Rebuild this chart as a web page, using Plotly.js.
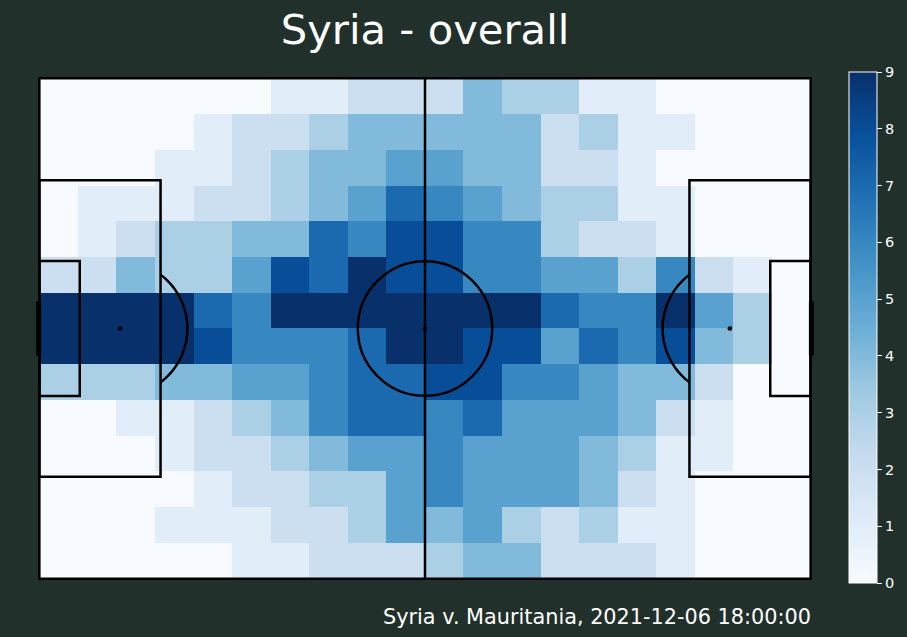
<!DOCTYPE html>
<html>
<head>
<meta charset="utf-8">
<script src="https://cdn.plot.ly/plotly-3.0.1.min.js"></script>
<style>html,body{margin:0;padding:0;background:#22302b;}#chart{width:907px;height:637px;}</style>
</head>
<body>
<div id="chart"></div>
<script>
// Heatmap counts, rows from top touchline to bottom touchline, 20 columns left to right
const row0  = [0,0,0,0,0,0,1,1,2,2, 2,4,3,3,1,1,0,0,0,0];
const row1  = [0,0,0,0,1,2,2,3,4,4, 4,4,4,2,3,1,1,0,0,0];
const row2  = [0,0,0,1,1,2,3,4,4,5, 5,4,4,2,2,1,0,0,0,0];
const row3  = [0,1,1,1,2,2,3,4,5,7, 6,5,4,3,3,1,1,0,0,0];
const row4  = [0,1,2,3,3,4,4,7,6,8, 8,6,6,3,2,2,1,0,0,0];
const row5  = [2,2,4,3,3,5,8,7,9,8, 8,6,6,5,5,3,6,2,1,0];
const row6  = [9,9,9,9,7,6,9,9,9,9, 9,9,9,7,6,6,9,5,3,0];
const row7  = [9,9,9,9,8,6,6,6,7,9, 9,8,8,5,7,6,8,4,3,0];
const row8  = [3,3,3,4,4,5,5,6,7,7, 8,8,6,6,5,4,4,2,0,0];
const row9  = [0,0,1,1,2,3,4,6,7,7, 6,7,5,5,5,4,2,1,0,0];
const row10 = [0,0,0,1,2,2,3,4,5,5, 6,5,5,5,4,3,1,1,0,0];
const row11 = [0,0,0,0,1,2,2,3,3,5, 6,5,5,5,4,2,1,0,0,0];
const row12 = [0,0,0,1,1,1,2,2,3,5, 4,5,3,2,3,1,1,0,0,0];
const row13 = [0,0,0,0,0,1,1,2,2,2, 3,4,4,2,2,2,1,0,0,0];
const colorbarTicks = [0,1,2,3,4,5,6,7,8,9];
const titleText = "Syria - overall";
const subtitleText = "Syria v. Mauritania, 2021-12-06 18:00:00";

const z = [row0,row1,row2,row3,row4,row5,row6,row7,row8,row9,row10,row11,row12,row13];
const L = 105, W = 68, NX = 20, NY = 14;
const xc = [], yc = [];
for (let i = 0; i < NX; i++) xc.push(L / NX * (i + 0.5));
for (let j = 0; j < NY; j++) yc.push(W / NY * (j + 0.5));

const blues = [
  [0.0, '#f7fbff'], [0.125, '#deebf7'], [0.25, '#c6dbef'], [0.375, '#9ecae1'],
  [0.5, '#6baed6'], [0.625, '#4292c6'], [0.75, '#2171b5'], [0.875, '#08519c'], [1.0, '#08306b']
];

const line = {color: '#000000', width: 2.5};
const shapes = [];
function rect(x0, y0, x1, y1) {
  shapes.push({type: 'rect', xref: 'x', yref: 'y', x0, y0, x1, y1, line, layer: 'above'});
}
function seg(x0, y0, x1, y1, w) {
  shapes.push({type: 'line', xref: 'x', yref: 'y', x0, y0, x1, y1, line: {color: '#000', width: w || 2.5}, layer: 'above'});
}
function dot(cx, cy, r) {
  shapes.push({type: 'circle', xref: 'x', yref: 'y', x0: cx - r, x1: cx + r, y0: cy - r, y1: cy + r,
    fillcolor: '#000', line: {color: '#000', width: 0}, layer: 'above'});
}
function arc(cx, cy, r, a0, a1) {
  let p = '';
  const n = 40;
  for (let k = 0; k <= n; k++) {
    const a = (a0 + (a1 - a0) * k / n) * Math.PI / 180;
    p += (k ? ' L ' : 'M ') + (cx + r * Math.cos(a)).toFixed(3) + ',' + (cy + r * Math.sin(a)).toFixed(3);
  }
  shapes.push({type: 'path', xref: 'x', yref: 'y', path: p, line, layer: 'above'});
}
// pitch
rect(0, 0, L, W);
seg(L / 2, 0, L / 2, W);
rect(0, (W - 40.32) / 2, 16.5, (W + 40.32) / 2);
rect(L - 16.5, (W - 40.32) / 2, L, (W + 40.32) / 2);
rect(0, (W - 18.32) / 2, 5.5, (W + 18.32) / 2);
rect(L - 5.5, (W - 18.32) / 2, L, (W + 18.32) / 2);
shapes.push({type: 'circle', xref: 'x', yref: 'y', x0: L / 2 - 9.15, x1: L / 2 + 9.15, y0: W / 2 - 9.15, y1: W / 2 + 9.15, line, layer: 'above'});
const ang = Math.acos(5.5 / 9.15) * 180 / Math.PI;
arc(11, W / 2, 9.15, -ang, ang);
arc(L - 11, W / 2, 9.15, 180 - ang, 180 + ang);
dot(11, W / 2, 0.32);
dot(L - 11, W / 2, 0.32);
dot(L / 2, W / 2, 0.32);
seg(-0.1, W / 2 - 3.66, -0.1, W / 2 + 3.66, 5);
seg(L + 0.1, W / 2 - 3.66, L + 0.1, W / 2 + 3.66, 5);

const trace = {
  type: 'heatmap', x: xc, y: yc, z: z,
  zmin: 0, zmax: 9, colorscale: blues, hoverinfo: 'skip',
  colorbar: {
    x: (851 - 32) / 788, xanchor: 'left', y: (586 - 327.5) / 515, yanchor: 'middle',
    thickness: 28, thicknessmode: 'pixels', len: 511, lenmode: 'pixels',
    xpad: 0, ypad: 0,
    outlinecolor: '#ffffff', outlinewidth: 1,
    tickmode: 'array', tickvals: colorbarTicks, ticktext: colorbarTicks.map(String),
    ticks: 'outside', ticklen: 5, tickwidth: 1, tickcolor: '#ffffff',
    tickfont: {family: 'DejaVu Sans', size: 14.5, color: '#ffffff'}
  }
};

const layout = {
  width: 907, height: 637,
  margin: {l: 32, r: 87, t: 71, b: 51},
  paper_bgcolor: '#22302b', plot_bgcolor: '#22302b',
  xaxis: {range: [-1, 106], visible: false, showgrid: false, zeroline: false, fixedrange: true},
  yaxis: {range: [69, -1], visible: false, showgrid: false, zeroline: false, fixedrange: true},
  title: {text: titleText, x: 0.5, xref: 'paper', xanchor: 'center', y: 1 - 29 / 637, yref: 'container', yanchor: 'middle',
    font: {family: 'DejaVu Sans', size: 41.7, color: '#ffffff'}},
  annotations: [{
    text: subtitleText, xref: 'paper', yref: 'paper', x: (815 - 32) / 788, y: (586 - 617) / 515,
    xanchor: 'right', yanchor: 'middle', showarrow: false,
    font: {family: 'DejaVu Sans', size: 20.8, color: '#ffffff'}
  }],
  shapes: shapes
};

Plotly.newPlot('chart', [trace], layout, {staticPlot: true, displayModeBar: false});
</script>
</body>
</html>
